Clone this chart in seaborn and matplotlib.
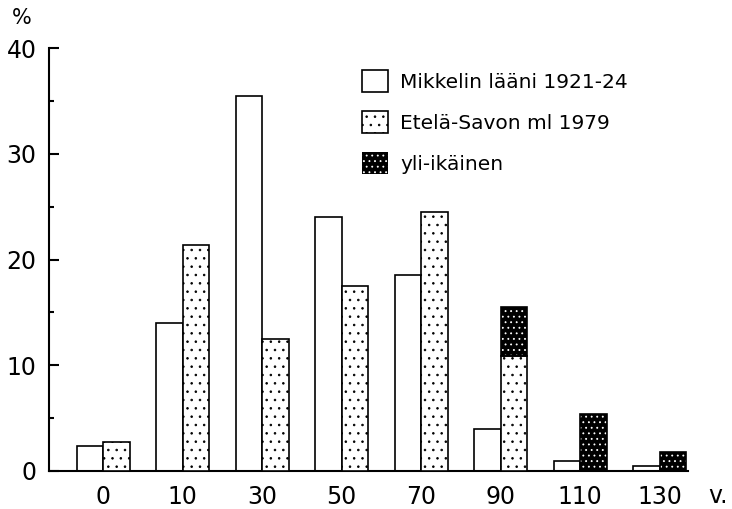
import matplotlib
matplotlib.use('Agg')
import matplotlib.pyplot as plt
import seaborn as sns
import pandas as pd
from matplotlib.patches import Patch, Rectangle
from matplotlib.ticker import MultipleLocator

# ---- data ----
ages = ['0', '10', '30', '50', '70', '90', '110', '130']
mikkeli = [2.4, 14.0, 35.5, 24.0, 18.5, 4.0, 0.9, 0.5]
etela = [2.7, 21.4, 12.5, 17.5, 24.5, 10.9, 0.0, 0.0]
yli = [0.0, 0.0, 0.0, 0.0, 0.0, 4.6, 5.4, 1.8]
labels = ['Mikkelin lääni 1921-24', 'Etelä-Savon ml 1979', 'yli-ikäinen']

sns.set_style('white')
plt.rcParams['font.family'] = ['DejaVu Sans']
plt.rcParams['hatch.linewidth'] = 0.6
for k in ['text.color', 'axes.labelcolor', 'xtick.color', 'ytick.color']:
    plt.rcParams[k] = 'black'

fig = plt.figure(figsize=(7.32, 5.09), dpi=100)
ax = fig.add_axes([49/732, 38/509, (688-49)/732, 423/509])

total = [e + y for e, y in zip(etela, yli)]
df = pd.DataFrame({
    'age': ages * 2,
    'series': [labels[0]] * len(ages) + [labels[1]] * len(ages),
    'value': mikkeli + total,
})
sns.barplot(data=df, x='age', y='value', hue='series', order=ages,
            hue_order=labels[:2], width=0.667, ax=ax, legend=False,
            palette=['white', 'black'], saturation=1,
            edgecolor='black', linewidth=1.2, errorbar=None)

LW = 1.2
DOT = '..'
DARK = '...'
cont_m, cont_e = ax.containers[0], ax.containers[1]
for bar in cont_m:
    bar.set_facecolor('white')
    bar.set_edgecolor('black')
    bar.set_linewidth(LW)

for i, bar in enumerate(cont_e):
    x0, w = bar.get_x(), bar.get_width()
    bar.set_facecolor('black')
    bar.set_edgecolor('white')
    bar.set_hatch(DARK)
    bar.set_linewidth(0)
    if etela[i] > 0:
        ax.add_patch(Rectangle((x0, 0), w, etela[i], facecolor='white',
                               edgecolor='black', hatch=DOT, linewidth=0, zorder=3))
        ax.add_patch(Rectangle((x0, 0), w, etela[i], fill=False,
                               edgecolor='black', linewidth=LW, zorder=4))
    if yli[i] > 0:
        ax.add_patch(Rectangle((x0, etela[i]), w, yli[i], fill=False,
                               edgecolor='black', linewidth=LW, zorder=4))

ax.set_xlim(-0.68, 7.355)
ax.set_ylim(0, 40)
ax.set_xlabel('')
ax.set_ylabel('')

for s in ['top', 'right']:
    ax.spines[s].set_visible(False)
for s in ['left', 'bottom']:
    ax.spines[s].set_color('black')
    ax.spines[s].set_linewidth(1.5)

ax.yaxis.set_major_locator(MultipleLocator(10))
ax.yaxis.set_minor_locator(MultipleLocator(5))
ax.tick_params(axis='y', which='major', direction='in', length=7, width=1.5,
               labelsize=17, pad=9, color='black', left=True)
ax.tick_params(axis='y', which='minor', direction='in', length=3.5, width=1.5,
               color='black', left=True)
ax.tick_params(axis='x', length=0, labelsize=17, pad=10)

fig.text(22/732, 1 - 18/509, '%', ha='center', va='center', fontsize=15)
fig.text(718/732, 1 - 496/509, 'v.', ha='center', va='center', fontsize=17)

h1 = Patch(facecolor='white', edgecolor='black', linewidth=LW)
h2 = Patch(facecolor='white', edgecolor='black', hatch=DOT, linewidth=LW)
h3 = Patch(facecolor='black', edgecolor='white', hatch=DARK, linewidth=0)
ax.legend([h1, h2, h3], labels, loc='upper left', frameon=False,
          bbox_to_anchor=(362/732, 1 - 70/509), bbox_transform=fig.transFigure,
          fontsize=14.5, handlelength=1.3, handleheight=1.3, labelspacing=0.95,
          handletextpad=0.6, borderpad=0, borderaxespad=0)

fig.savefig('out.png', dpi=100, facecolor='white')
